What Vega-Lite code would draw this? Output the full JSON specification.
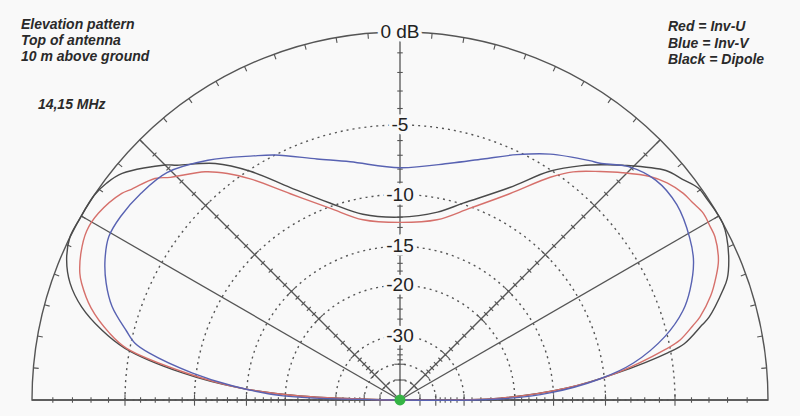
{
  "$schema": "https://vega.github.io/schema/vega-lite/v6.json",
  "width": 736,
  "height": 368,
  "autosize": "none",
  "padding": {"left": 32, "right": 32, "top": 32, "bottom": 16},
  "background": "#f9f9f9",
  "view": {"stroke": null},
  "datasets": {
    "pattern": [
      {"antenna": "Dipole", "angle": 0, "dB": -99},
      {"antenna": "Dipole", "angle": 1.1, "dB": -22.3},
      {"antenna": "Dipole", "angle": 4.1, "dB": -13.5},
      {"antenna": "Dipole", "angle": 7.1, "dB": -8.9},
      {"antenna": "Dipole", "angle": 10, "dB": -5.2},
      {"antenna": "Dipole", "angle": 11.2, "dB": -4.1},
      {"antenna": "Dipole", "angle": 13.9, "dB": -2.9},
      {"antenna": "Dipole", "angle": 15, "dB": -2.4},
      {"antenna": "Dipole", "angle": 18.8, "dB": -1.3},
      {"antenna": "Dipole", "angle": 20.4, "dB": -0.9},
      {"antenna": "Dipole", "angle": 23.1, "dB": -0.5},
      {"antenna": "Dipole", "angle": 26.6, "dB": -0.13},
      {"antenna": "Dipole", "angle": 28.7, "dB": 0},
      {"antenna": "Dipole", "angle": 30.4, "dB": 0},
      {"antenna": "Dipole", "angle": 33.1, "dB": -0.05},
      {"antenna": "Dipole", "angle": 35.4, "dB": -0.1},
      {"antenna": "Dipole", "angle": 38, "dB": -0.45},
      {"antenna": "Dipole", "angle": 40.8, "dB": -0.8},
      {"antenna": "Dipole", "angle": 46.5, "dB": -2.2},
      {"antenna": "Dipole", "angle": 49.2, "dB": -2.9},
      {"antenna": "Dipole", "angle": 52.2, "dB": -3.7},
      {"antenna": "Dipole", "angle": 56.8, "dB": -5.1},
      {"antenna": "Dipole", "angle": 62.7, "dB": -7.4},
      {"antenna": "Dipole", "angle": 72.2, "dB": -9.9},
      {"antenna": "Dipole", "angle": 78.7, "dB": -11.2},
      {"antenna": "Dipole", "angle": 90, "dB": -12.0},
      {"antenna": "Dipole", "angle": 101.3, "dB": -11.4},
      {"antenna": "Dipole", "angle": 109.6, "dB": -9.7},
      {"antenna": "Dipole", "angle": 117.3, "dB": -7.4},
      {"antenna": "Dipole", "angle": 123.2, "dB": -5.1},
      {"antenna": "Dipole", "angle": 128, "dB": -3.5},
      {"antenna": "Dipole", "angle": 133.5, "dB": -2.2},
      {"antenna": "Dipole", "angle": 135, "dB": -1.75},
      {"antenna": "Dipole", "angle": 140.8, "dB": -0.45},
      {"antenna": "Dipole", "angle": 143.5, "dB": -0.15},
      {"antenna": "Dipole", "angle": 146.2, "dB": 0},
      {"antenna": "Dipole", "angle": 150.6, "dB": 0},
      {"antenna": "Dipole", "angle": 153.8, "dB": 0},
      {"antenna": "Dipole", "angle": 157.2, "dB": -0.3},
      {"antenna": "Dipole", "angle": 160.5, "dB": -0.86},
      {"antenna": "Dipole", "angle": 163.7, "dB": -1.78},
      {"antenna": "Dipole", "angle": 166.8, "dB": -3.15},
      {"antenna": "Dipole", "angle": 169.35, "dB": -4.7},
      {"antenna": "Dipole", "angle": 172.9, "dB": -8.9},
      {"antenna": "Dipole", "angle": 175.7, "dB": -14.2},
      {"antenna": "Dipole", "angle": 177.7, "dB": -22.3},
      {"antenna": "Dipole", "angle": 180, "dB": -99},
      {"antenna": "Inv-U", "angle": 0, "dB": -99},
      {"antenna": "Inv-U", "angle": 1.1, "dB": -22.3},
      {"antenna": "Inv-U", "angle": 4.1, "dB": -13.6},
      {"antenna": "Inv-U", "angle": 7.1, "dB": -9.0},
      {"antenna": "Inv-U", "angle": 10.8, "dB": -5.3},
      {"antenna": "Inv-U", "angle": 12.1, "dB": -4.3},
      {"antenna": "Inv-U", "angle": 14.2, "dB": -3.4},
      {"antenna": "Inv-U", "angle": 15.5, "dB": -2.87},
      {"antenna": "Inv-U", "angle": 18.5, "dB": -2.0},
      {"antenna": "Inv-U", "angle": 21.3, "dB": -1.4},
      {"antenna": "Inv-U", "angle": 23.7, "dB": -0.97},
      {"antenna": "Inv-U", "angle": 27.4, "dB": -0.63},
      {"antenna": "Inv-U", "angle": 29.2, "dB": -0.6},
      {"antenna": "Inv-U", "angle": 31.6, "dB": -0.56},
      {"antenna": "Inv-U", "angle": 33.9, "dB": -0.71},
      {"antenna": "Inv-U", "angle": 36.1, "dB": -0.83},
      {"antenna": "Inv-U", "angle": 39.1, "dB": -1.15},
      {"antenna": "Inv-U", "angle": 41.8, "dB": -1.6},
      {"antenna": "Inv-U", "angle": 45.6, "dB": -2.5},
      {"antenna": "Inv-U", "angle": 48.8, "dB": -3.3},
      {"antenna": "Inv-U", "angle": 52.8, "dB": -4.3},
      {"antenna": "Inv-U", "angle": 56, "dB": -5.4},
      {"antenna": "Inv-U", "angle": 62, "dB": -7.8},
      {"antenna": "Inv-U", "angle": 69.9, "dB": -10.1},
      {"antenna": "Inv-U", "angle": 78.4, "dB": -11.9},
      {"antenna": "Inv-U", "angle": 90, "dB": -12.5},
      {"antenna": "Inv-U", "angle": 101.6, "dB": -11.9},
      {"antenna": "Inv-U", "angle": 110.1, "dB": -10.1},
      {"antenna": "Inv-U", "angle": 118, "dB": -7.8},
      {"antenna": "Inv-U", "angle": 124.1, "dB": -5.5},
      {"antenna": "Inv-U", "angle": 127.3, "dB": -4.4},
      {"antenna": "Inv-U", "angle": 130.5, "dB": -3.5},
      {"antenna": "Inv-U", "angle": 135.9, "dB": -2.4},
      {"antenna": "Inv-U", "angle": 137.9, "dB": -1.85},
      {"antenna": "Inv-U", "angle": 141.8, "dB": -1.3},
      {"antenna": "Inv-U", "angle": 143.4, "dB": -1.03},
      {"antenna": "Inv-U", "angle": 148.25, "dB": -0.63},
      {"antenna": "Inv-U", "angle": 151.7, "dB": -0.57},
      {"antenna": "Inv-U", "angle": 155.3, "dB": -0.8},
      {"antenna": "Inv-U", "angle": 158.4, "dB": -1.14},
      {"antenna": "Inv-U", "angle": 159.9, "dB": -1.41},
      {"antenna": "Inv-U", "angle": 163.4, "dB": -2.27},
      {"antenna": "Inv-U", "angle": 167, "dB": -3.6},
      {"antenna": "Inv-U", "angle": 169.3, "dB": -4.8},
      {"antenna": "Inv-U", "angle": 172.8, "dB": -9.2},
      {"antenna": "Inv-U", "angle": 175.7, "dB": -14.3},
      {"antenna": "Inv-U", "angle": 177.7, "dB": -22.3},
      {"antenna": "Inv-U", "angle": 180, "dB": -99},
      {"antenna": "Inv-V", "angle": 0, "dB": -99},
      {"antenna": "Inv-V", "angle": 0.6, "dB": -22.3},
      {"antenna": "Inv-V", "angle": 2.7, "dB": -15.4},
      {"antenna": "Inv-V", "angle": 6, "dB": -10.4},
      {"antenna": "Inv-V", "angle": 9, "dB": -7.6},
      {"antenna": "Inv-V", "angle": 13.5, "dB": -5.15},
      {"antenna": "Inv-V", "angle": 17.5, "dB": -3.7},
      {"antenna": "Inv-V", "angle": 20.8, "dB": -2.93},
      {"antenna": "Inv-V", "angle": 25.3, "dB": -2.15},
      {"antenna": "Inv-V", "angle": 29.2, "dB": -1.77},
      {"antenna": "Inv-V", "angle": 35.2, "dB": -1.42},
      {"antenna": "Inv-V", "angle": 40.7, "dB": -1.5},
      {"antenna": "Inv-V", "angle": 45.6, "dB": -2.05},
      {"antenna": "Inv-V", "angle": 49.8, "dB": -2.95},
      {"antenna": "Inv-V", "angle": 51.6, "dB": -3.2},
      {"antenna": "Inv-V", "angle": 58.6, "dB": -4.2},
      {"antenna": "Inv-V", "angle": 64.5, "dB": -5.2},
      {"antenna": "Inv-V", "angle": 71, "dB": -6.3},
      {"antenna": "Inv-V", "angle": 78.1, "dB": -7.2},
      {"antenna": "Inv-V", "angle": 90, "dB": -7.9},
      {"antenna": "Inv-V", "angle": 101.8, "dB": -7.1},
      {"antenna": "Inv-V", "angle": 109, "dB": -6.3},
      {"antenna": "Inv-V", "angle": 117, "dB": -5.0},
      {"antenna": "Inv-V", "angle": 121, "dB": -4.4},
      {"antenna": "Inv-V", "angle": 128.7, "dB": -3.1},
      {"antenna": "Inv-V", "angle": 135.7, "dB": -2.1},
      {"antenna": "Inv-V", "angle": 141.4, "dB": -1.8},
      {"antenna": "Inv-V", "angle": 146.7, "dB": -1.65},
      {"antenna": "Inv-V", "angle": 150.7, "dB": -1.67},
      {"antenna": "Inv-V", "angle": 154.6, "dB": -2.05},
      {"antenna": "Inv-V", "angle": 158.3, "dB": -2.6},
      {"antenna": "Inv-V", "angle": 162, "dB": -3.35},
      {"antenna": "Inv-V", "angle": 165.8, "dB": -4.55},
      {"antenna": "Inv-V", "angle": 167.9, "dB": -5.25},
      {"antenna": "Inv-V", "angle": 169.4, "dB": -6.3},
      {"antenna": "Inv-V", "angle": 172.6, "dB": -9.7},
      {"antenna": "Inv-V", "angle": 175.2, "dB": -13.5},
      {"antenna": "Inv-V", "angle": 178, "dB": -19.7},
      {"antenna": "Inv-V", "angle": 180, "dB": -99}
    ],
    "circles": [
      {"dB": 0, "label": "0 dB"},
      {"dB": -5, "label": "-5"},
      {"dB": -10, "label": "-10"},
      {"dB": -15, "label": "-15"},
      {"dB": -20, "label": "-20"},
      {"dB": -30, "label": "-30"},
      {"dB": -40, "label": ""},
      {"dB": -50, "label": ""}
    ],
    "spokes": [
      {"angle": 0}, {"angle": 30}, {"angle": 45}, {"angle": 90},
      {"angle": 135}, {"angle": 150}, {"angle": 180}
    ],
    "scaleTicks": [
      {"dB": -1, "spokes": [0, 45, 90, 135, 180]},
      {"dB": -2, "spokes": [0, 45, 90, 135, 180]},
      {"dB": -3, "spokes": [0, 45, 90, 135, 180]},
      {"dB": -4, "spokes": [0, 45, 90, 135, 180]},
      {"dB": -5, "spokes": [0, 45, 90, 135, 180]},
      {"dB": -6, "spokes": [0, 45, 90, 135, 180]},
      {"dB": -7, "spokes": [0, 45, 90, 135, 180]},
      {"dB": -8, "spokes": [0, 45, 90, 135, 180]},
      {"dB": -9, "spokes": [0, 45, 90, 135, 180]},
      {"dB": -10, "spokes": [0, 45, 90, 135, 180]},
      {"dB": -11, "spokes": [0, 45, 90, 135, 180]},
      {"dB": -12, "spokes": [0, 45, 90, 135, 180]},
      {"dB": -13, "spokes": [0, 45, 90, 135, 180]},
      {"dB": -14, "spokes": [0, 45, 90, 135, 180]},
      {"dB": -15, "spokes": [0, 45, 90, 135, 180]},
      {"dB": -16, "spokes": [0, 45, 90, 135, 180]},
      {"dB": -17, "spokes": [0, 45, 90, 135, 180]},
      {"dB": -18, "spokes": [0, 45, 90, 135, 180]},
      {"dB": -19, "spokes": [0, 45, 90, 135, 180]},
      {"dB": -20, "spokes": [0, 45, 90, 135, 180]},
      {"dB": -22, "spokes": [0, 45, 90, 135, 180]},
      {"dB": -24, "spokes": [0, 45, 90, 135, 180]},
      {"dB": -26, "spokes": [0, 45, 90, 135, 180]},
      {"dB": -28, "spokes": [0, 45, 90, 135, 180]},
      {"dB": -30, "spokes": [0, 45, 90, 135, 180]},
      {"dB": -32, "spokes": [0, 45, 90, 135, 180]},
      {"dB": -34, "spokes": [0, 45, 90, 135, 180]},
      {"dB": -36, "spokes": [0, 45, 90, 135, 180]},
      {"dB": -38, "spokes": [0, 45, 90, 135, 180]},
      {"dB": -40, "spokes": [0, 45, 90, 135, 180]},
      {"dB": -50, "spokes": [0, 45, 90, 135, 180]}
    ],
    "rimTicks": [
      {"angle": 5}, {"angle": 10}, {"angle": 15}, {"angle": 20}, {"angle": 25},
      {"angle": 30}, {"angle": 35}, {"angle": 40}, {"angle": 45}, {"angle": 50},
      {"angle": 55}, {"angle": 60}, {"angle": 65}, {"angle": 70}, {"angle": 75},
      {"angle": 80}, {"angle": 85}, {"angle": 95}, {"angle": 100},
      {"angle": 105}, {"angle": 110}, {"angle": 115}, {"angle": 120}, {"angle": 125},
      {"angle": 130}, {"angle": 135}, {"angle": 140}, {"angle": 145}, {"angle": 150},
      {"angle": 155}, {"angle": 160}, {"angle": 165}, {"angle": 170}, {"angle": 175}
    ]
  },
  "layer": [
    {
      "data": {"name": "circles"},
      "transform": [
        {"filter": "datum.dB < 0"},
        {"calculate": "pow(0.89, -datum.dB / 2)", "as": "r"}
      ],
      "mark": {"type": "arc", "filled": false, "color": "#555555", "strokeWidth": 1.4, "strokeDash": [2, 4], "theta": -1.5708, "theta2": 1.5708},
      "encoding": {
        "x": {"datum": 0, "type": "quantitative", "scale": {"domain": [-1, 1], "nice": false, "zero": false}, "axis": null},
        "y": {"datum": 0, "type": "quantitative", "scale": {"domain": [0, 1], "nice": false, "zero": false}, "axis": null},
        "radius": {"field": "r", "type": "quantitative", "stack": null, "scale": {"type": "linear", "domain": [0, 1], "range": [0, 368], "zero": true}}
      }
    },
    {
      "data": {"name": "circles"},
      "transform": [
        {"filter": "datum.dB == 0"},
        {"calculate": "pow(0.89, -datum.dB / 2)", "as": "r"}
      ],
      "mark": {"type": "arc", "filled": false, "color": "#555555", "strokeWidth": 1.4, "theta": -1.5708, "theta2": 1.5708},
      "encoding": {
        "x": {"datum": 0, "type": "quantitative", "scale": {"domain": [-1, 1], "nice": false, "zero": false}, "axis": null},
        "y": {"datum": 0, "type": "quantitative", "scale": {"domain": [0, 1], "nice": false, "zero": false}, "axis": null},
        "radius": {"field": "r", "type": "quantitative", "stack": null, "scale": {"type": "linear", "domain": [0, 1], "range": [0, 368], "zero": true}}
      }
    },
    {
      "data": {"name": "spokes"},
      "transform": [
        {"calculate": "cos(datum.angle * PI / 180)", "as": "ex"},
        {"calculate": "sin(datum.angle * PI / 180)", "as": "ey"}
      ],
      "mark": {"type": "rule", "color": "#555555", "strokeWidth": 1.3},
      "encoding": {
        "x": {"field": "ex", "type": "quantitative", "scale": {"domain": [-1, 1], "nice": false, "zero": false}, "axis": null},
        "y": {"field": "ey", "type": "quantitative", "scale": {"domain": [0, 1], "nice": false, "zero": false}, "axis": null},
        "x2": {"datum": 0},
        "y2": {"datum": 0}
      }
    },
    {
      "data": {"name": "scaleTicks"},
      "transform": [
        {"flatten": ["spokes"]},
        {"calculate": "pow(0.89, -datum.dB / 2)", "as": "r"},
        {"calculate": "datum.r * cos(datum.spokes * PI / 180)", "as": "px"},
        {"calculate": "datum.r * sin(datum.spokes * PI / 180)", "as": "py"},
        {"calculate": "90 - datum.spokes", "as": "ang"},
        {"calculate": "indexof([-5, -10, -15, -20, -30, -40, -50], datum.dB) >= 0 ? 'major' : 'minor'", "as": "kind"}
      ],
      "mark": {"type": "point", "shape": "stroke", "filled": false, "color": "#555555", "strokeWidth": 1.1, "opacity": 1},
      "encoding": {
        "x": {"field": "px", "type": "quantitative", "scale": {"domain": [-1, 1], "nice": false, "zero": false}, "axis": null},
        "y": {"field": "py", "type": "quantitative", "scale": {"domain": [0, 1], "nice": false, "zero": false}, "axis": null},
        "angle": {"field": "ang", "type": "quantitative", "scale": null},
        "size": {"field": "kind", "type": "nominal", "scale": {"domain": ["minor", "major"], "range": [30, 130]}, "legend": null}
      }
    },
    {
      "data": {"name": "rimTicks"},
      "transform": [
        {"calculate": "0.993 * cos(datum.angle * PI / 180)", "as": "px"},
        {"calculate": "0.993 * sin(datum.angle * PI / 180)", "as": "py"},
        {"calculate": "-datum.angle", "as": "ang"}
      ],
      "mark": {"type": "point", "shape": "stroke", "filled": false, "color": "#555555", "strokeWidth": 1.1, "size": 30, "opacity": 1},
      "encoding": {
        "x": {"field": "px", "type": "quantitative", "scale": {"domain": [-1, 1], "nice": false, "zero": false}, "axis": null},
        "y": {"field": "py", "type": "quantitative", "scale": {"domain": [0, 1], "nice": false, "zero": false}, "axis": null},
        "angle": {"field": "ang", "type": "quantitative", "scale": null}
      }
    },
    {
      "data": {"name": "pattern"},
      "transform": [
        {"calculate": "pow(0.89, -datum.dB / 2)", "as": "r"},
        {"calculate": "datum.r * cos(datum.angle * PI / 180)", "as": "px"},
        {"calculate": "datum.r * sin(datum.angle * PI / 180)", "as": "py"}
      ],
      "mark": {"type": "line", "strokeWidth": 1.4, "interpolate": "catmull-rom"},
      "encoding": {
        "x": {"field": "px", "type": "quantitative", "scale": {"domain": [-1, 1], "nice": false, "zero": false}, "axis": null},
        "y": {"field": "py", "type": "quantitative", "scale": {"domain": [0, 1], "nice": false, "zero": false}, "axis": null},
        "order": {"field": "angle", "type": "quantitative"},
        "color": {"field": "antenna", "type": "nominal", "scale": {"domain": ["Dipole", "Inv-U", "Inv-V"], "range": ["#4a4a4a", "#d6706b", "#5862b2"]}, "legend": null}
      }
    },
    {
      "data": {"values": [{"name": "origin"}]},
      "mark": {"type": "point", "filled": true, "color": "#35b445", "size": 120, "opacity": 1},
      "encoding": {
        "x": {"datum": 0, "type": "quantitative", "scale": {"domain": [-1, 1], "nice": false, "zero": false}, "axis": null},
        "y": {"datum": 0, "type": "quantitative", "scale": {"domain": [0, 1], "nice": false, "zero": false}, "axis": null}
      }
    },
    {
      "data": {"name": "circles"},
      "transform": [
        {"filter": "datum.label != ''"},
        {"calculate": "pow(0.89, -datum.dB / 2)", "as": "r"}
      ],
      "mark": {"type": "text", "font": "Liberation Sans", "fontSize": 19, "fill": "#f9f9f9", "stroke": "#f9f9f9", "strokeWidth": 7, "align": "center", "baseline": "middle"},
      "encoding": {
        "x": {"datum": 0, "type": "quantitative", "scale": {"domain": [-1, 1], "nice": false, "zero": false}, "axis": null},
        "y": {"field": "r", "type": "quantitative", "scale": {"domain": [0, 1], "nice": false, "zero": false}, "axis": null},
        "text": {"field": "label"}
      }
    },
    {
      "data": {"name": "circles"},
      "transform": [
        {"filter": "datum.label != ''"},
        {"calculate": "pow(0.89, -datum.dB / 2)", "as": "r"}
      ],
      "mark": {"type": "text", "font": "Liberation Sans", "fontSize": 19, "color": "#222222", "align": "center", "baseline": "middle"},
      "encoding": {
        "x": {"datum": 0, "type": "quantitative", "scale": {"domain": [-1, 1], "nice": false, "zero": false}, "axis": null},
        "y": {"field": "r", "type": "quantitative", "scale": {"domain": [0, 1], "nice": false, "zero": false}, "axis": null},
        "text": {"field": "label"}
      }
    },
    {
      "data": {"values": [{"t": "Elevation pattern\nTop of antenna\n10 m above ground"}]},
      "mark": {"type": "text", "font": "Liberation Sans", "fontSize": 14, "fontStyle": "italic", "fontWeight": "bold", "color": "#2a2a2a", "align": "left", "baseline": "alphabetic", "lineBreak": "\n", "lineHeight": 16},
      "encoding": {
        "x": {"datum": -1.03, "type": "quantitative", "scale": {"domain": [-1, 1], "nice": false, "zero": false}, "axis": null},
        "y": {"datum": 1.0095, "type": "quantitative", "scale": {"domain": [0, 1], "nice": false, "zero": false}, "axis": null},
        "text": {"field": "t"}
      }
    },
    {
      "data": {"values": [{"t": "14,15 MHz"}]},
      "mark": {"type": "text", "font": "Liberation Sans", "fontSize": 14, "fontStyle": "italic", "fontWeight": "bold", "color": "#2a2a2a", "align": "left", "baseline": "alphabetic"},
      "encoding": {
        "x": {"datum": -0.984, "type": "quantitative", "scale": {"domain": [-1, 1], "nice": false, "zero": false}, "axis": null},
        "y": {"datum": 0.79, "type": "quantitative", "scale": {"domain": [0, 1], "nice": false, "zero": false}, "axis": null},
        "text": {"field": "t"}
      }
    },
    {
      "data": {"values": [{"t": "Red = Inv-U\nBlue = Inv-V\nBlack = Dipole"}]},
      "mark": {"type": "text", "font": "Liberation Sans", "fontSize": 14, "fontStyle": "italic", "fontWeight": "bold", "color": "#2a2a2a", "align": "left", "baseline": "alphabetic", "lineBreak": "\n", "lineHeight": 16.5},
      "encoding": {
        "x": {"datum": 0.7283, "type": "quantitative", "scale": {"domain": [-1, 1], "nice": false, "zero": false}, "axis": null},
        "y": {"datum": 1.0027, "type": "quantitative", "scale": {"domain": [0, 1], "nice": false, "zero": false}, "axis": null},
        "text": {"field": "t"}
      }
    }
  ]
}
